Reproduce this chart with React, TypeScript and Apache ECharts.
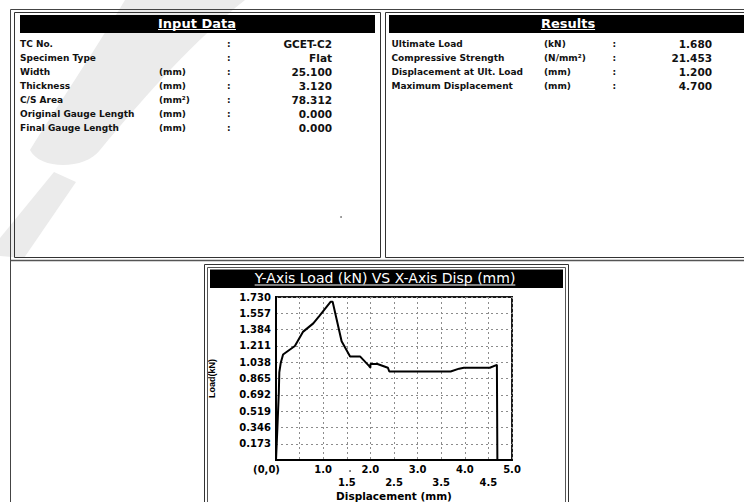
import { useEffect, useRef } from "react";
import * as echarts from "echarts";

const FONT = "'DejaVu Sans', Verdana, sans-serif";

// Input Data table
const inputLabels = ["TC No.", "Specimen Type", "Width", "Thickness", "C/S Area", "Original Gauge Length", "Final Gauge Length"];
const inputUnits = ["", "", "(mm)", "(mm)", "(mm²)", "(mm)", "(mm)"];
const inputValues = ["GCET-C2", "Flat", "25.100", "3.120", "78.312", "0.000", "0.000"];

// Results table
const resultLabels = ["Ultimate Load", "Compressive Strength", "Displacement at Ult. Load", "Maximum Displacement"];
const resultUnits = ["(kN)", "(N/mm²)", "(mm)", "(mm)"];
const resultValues = ["1.680", "21.453", "1.200", "4.700"];

// Recorded load (kN) against displacement (mm)
const displacement = [0, 0.03, 0.06, 0.07, 0.1, 0.15, 0.26, 0.4, 0.57, 0.79, 0.92, 1.16, 1.2, 1.39, 1.57, 1.78, 1.97, 2.0, 2.0, 2.15, 2.37, 2.4, 3.7, 3.88, 3.98, 4.53, 4.68, 4.69];
const load = [0, 0.35, 0.72, 0.93, 1.03, 1.12, 1.16, 1.21, 1.36, 1.45, 1.53, 1.68, 1.68, 1.26, 1.1, 1.1, 1.0, 0.98, 1.02, 1.02, 0.98, 0.94, 0.94, 0.97, 0.98, 0.98, 1.01, 0];

// Axis tick labels
const xTickLabels = ["(0,0)", "0.5", "1.0", "1.5", "2.0", "2.5", "3.0", "3.5", "4.0", "4.5", "5.0"];
const yTickLabels = ["", "0.173", "0.346", "0.519", "0.692", "0.865", "1.038", "1.211", "1.384", "1.557", "1.730"];
const X_STEP = 0.5;
const Y_STEP = 0.173;

const chartTitle = "Y-Axis Load (kN) VS X-Axis Disp (mm)";

// faint letterhead watermark strokes
echarts.graphic.registerShape(
  "wmCrescent",
  echarts.graphic.extendPath(
    "M125 0 C95 50 55 110 30 150 C40 170 85 170 100 150 C150 90 195 40 245 0 Z",
    {}
  )
);
echarts.graphic.registerShape(
  "wmBand",
  echarts.graphic.extendPath("M54 172 L76 182 L24 258 L0 256 L0 238 Z", {})
);

function textWidth(text: string, font: string): number {
  const ctx = document.createElement("canvas").getContext("2d");
  if (!ctx) return text.length * 7;
  ctx.font = font;
  return ctx.measureText(text).width;
}

function txt(x: number, y: number, text: string, font: string, fill = "#111", align = "left") {
  return {
    type: "text",
    x,
    y,
    silent: true,
    z: 10,
    style: { text, font, fill, align, verticalAlign: "middle" },
  };
}

function hline(x1: number, x2: number, y: number, stroke: string, lineWidth = 1) {
  return {
    type: "line",
    silent: true,
    z: 5,
    shape: { x1, y1: y, x2, y2: y },
    style: { stroke, lineWidth },
  };
}

function buildGraphics() {
  const g: any[] = [];
  const labelFont = `bold 9px ${FONT}`;
  const valueFont = `bold 10.5px ${FONT}`;
  const headFont = `bold 13px ${FONT}`;
  const titleFont = `14px ${FONT}`;

  // watermark
  g.push({ type: "wmCrescent", x: 0, y: 0, z: 0, silent: true, style: { fill: "#ebebeb" } });
  g.push({ type: "wmBand", x: 0, y: 0, z: 0, silent: true, style: { fill: "#ebebeb" } });

  // page frame
  g.push({
    type: "polyline",
    silent: true,
    z: 5,
    shape: { points: [[10.5, 502], [10.5, 9.5], [744, 9.5]] },
    style: { stroke: "#444", lineWidth: 1, fill: "none" },
  });
  g.push({
    type: "rect",
    silent: true,
    z: 5,
    shape: { x: 14.5, y: 12.5, width: 366, height: 245 },
    style: { stroke: "#333", lineWidth: 1, fill: "none" },
  });
  g.push({
    type: "rect",
    silent: true,
    z: 5,
    shape: { x: 385.5, y: 12.5, width: 380, height: 245 },
    style: { stroke: "#333", lineWidth: 1, fill: "none" },
  });
  g.push(hline(10.5, 744, 260.5, "#555", 1.5));

  // panel headers
  g.push({ type: "rect", silent: true, z: 6, shape: { x: 20, y: 15, width: 355, height: 18 }, style: { fill: "#000" } });
  g.push({ type: "rect", silent: true, z: 6, shape: { x: 389, y: 15, width: 360, height: 18 }, style: { fill: "#000" } });

  const inCx = 197;
  g.push(txt(inCx, 23, "Input Data", headFont, "#fff", "center"));
  const wIn = textWidth("Input Data", headFont);
  g.push({ ...hline(inCx - wIn / 2, inCx + wIn / 2, 29.5, "#fff", 1), z: 11 });

  const resCx = 568;
  g.push(txt(resCx, 23, "Results", headFont, "#fff", "center"));
  const wRes = textWidth("Results", headFont);
  g.push({ ...hline(resCx - wRes / 2, resCx + wRes / 2, 29.5, "#fff", 1), z: 11 });

  // Input Data rows
  inputLabels.forEach((label, i) => {
    const y = 43.5 + i * 14.1;
    g.push(txt(20, y, label, labelFont));
    if (inputUnits[i]) g.push(txt(159, y, inputUnits[i], labelFont));
    g.push(txt(227, y, ":", labelFont));
    g.push(txt(332, y, inputValues[i], valueFont, "#111", "right"));
  });

  // Results rows
  resultLabels.forEach((label, i) => {
    const y = 43.5 + i * 14.1;
    g.push(txt(391.5, y, label, labelFont));
    g.push(txt(544, y, resultUnits[i], labelFont));
    g.push(txt(612.5, y, ":", labelFont));
    g.push(txt(712, y, resultValues[i], valueFont, "#111", "right"));
  });

  // specks
  g.push({ type: "circle", silent: true, z: 5, shape: { cx: 341, cy: 217, r: 0.9 }, style: { fill: "#777" } });
  g.push({ type: "circle", silent: true, z: 5, shape: { cx: 350, cy: 471, r: 0.9 }, style: { fill: "#555" } });

  // chart frame
  g.push({
    type: "rect",
    silent: true,
    z: 1,
    shape: { x: 204.5, y: 264.5, width: 364, height: 260 },
    style: { stroke: "#333", lineWidth: 1, fill: "none" },
  });
  g.push({
    type: "rect",
    silent: true,
    z: 1,
    shape: { x: 207.5, y: 267.5, width: 358, height: 260 },
    style: { stroke: "#555", lineWidth: 1, fill: "none" },
  });
  g.push({ type: "rect", silent: true, z: 6, shape: { x: 210, y: 269.5, width: 353, height: 18.5 }, style: { fill: "#000" } });
  const tCx = 385;
  g.push(txt(tCx, 277.5, chartTitle, titleFont, "#fff", "center"));
  const wT = textWidth(chartTitle, titleFont);
  g.push({ ...hline(tCx - wT / 2, tCx + wT / 2, 285, "#fff", 1), z: 11 });

  return g;
}

export default function App() {
  const ref = useRef<HTMLDivElement>(null);

  useEffect(() => {
    if (!ref.current) return;
    const chart = echarts.init(ref.current, undefined, { renderer: "svg" });
    const xMax = X_STEP * (xTickLabels.length - 1);
    const yMax = Number((Y_STEP * (yTickLabels.length - 1)).toFixed(3));

    chart.setOption({
      animation: false,
      backgroundColor: "#fff",
      textStyle: { fontFamily: FONT },
      grid: {
        left: 276,
        top: 297,
        width: 236,
        height: 165,
        show: true,
        borderColor: "#1a1a1a",
        borderWidth: 2,
        backgroundColor: "transparent",
        containLabel: false,
      },
      xAxis: {
        type: "value",
        min: 0,
        max: xMax,
        interval: X_STEP,
        name: "Displacement (mm)",
        nameLocation: "middle",
        nameGap: 34,
        nameTextStyle: {
          fontFamily: FONT,
          fontWeight: "bold",
          fontSize: 10.5,
          color: "#000",
          verticalAlign: "middle",
        },
        axisLine: { show: true, lineStyle: { color: "#000", width: 2 } },
        axisTick: { show: false },
        splitLine: { show: true, lineStyle: { color: "#8c8c8c", width: 1, type: [2, 3] } },
        axisLabel: {
          color: "#000",
          fontFamily: FONT,
          fontWeight: "bold",
          fontSize: 10,
          lineHeight: 13,
          margin: 3,
          showMinLabel: true,
          showMaxLabel: true,
          hideOverlap: false,
          formatter: (v: number) => {
            const i = Math.round(v / X_STEP);
            const s = xTickLabels[i] ?? "";
            if (i === 0) return `{o|${s}}`;
            return i % 2 === 1 ? `\n${s}` : s;
          },
          rich: {
            o: {
              fontFamily: FONT,
              fontWeight: "bold",
              fontSize: 10,
              color: "#000",
              lineHeight: 13,
              padding: [0, 19, 0, 0],
            },
          },
        },
      },
      yAxis: {
        type: "value",
        min: 0,
        max: yMax,
        interval: Y_STEP,
        name: "Load(kN)",
        nameLocation: "middle",
        nameGap: 60,
        nameRotate: 90,
        nameTextStyle: {
          fontFamily: "'Liberation Sans', Arial, sans-serif",
          fontWeight: "bold",
          fontSize: 9,
          color: "#000",
        },
        axisLine: { show: true, lineStyle: { color: "#000", width: 2 } },
        axisTick: { show: false },
        splitLine: { show: true, lineStyle: { color: "#8c8c8c", width: 1, type: [2, 3] } },
        axisLabel: {
          color: "#000",
          fontFamily: FONT,
          fontWeight: "bold",
          fontSize: 10,
          margin: 5,
          showMinLabel: true,
          showMaxLabel: true,
          formatter: (v: number) => yTickLabels[Math.round(v / Y_STEP)] ?? "",
        },
      },
      series: [
        {
          type: "line",
          data: displacement.map((d, i) => [d, load[i]]),
          showSymbol: false,
          symbol: "none",
          lineStyle: { color: "#000", width: 2 },
          z: 3,
        },
      ],
      graphic: buildGraphics(),
    });

    return () => chart.dispose();
  }, []);

  return (
    <div
      ref={ref}
      style={{ position: "absolute", left: 0, top: 0, width: 744, height: 502, background: "#fff" }}
    />
  );
}
